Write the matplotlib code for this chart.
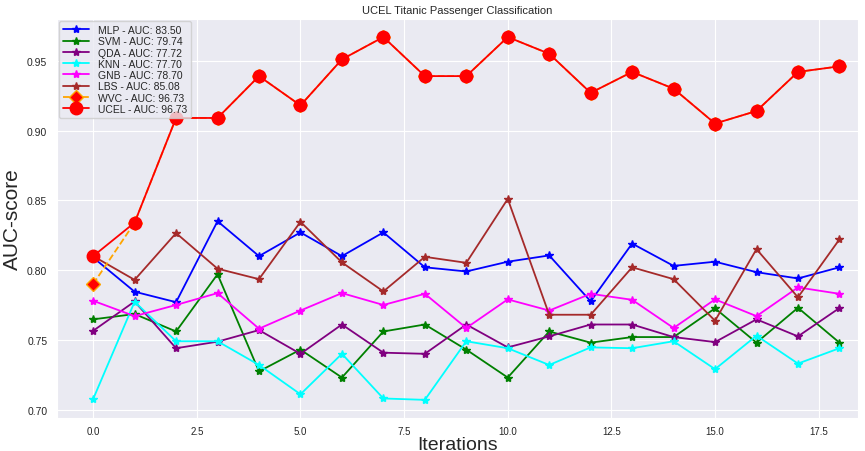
import numpy as np
import matplotlib
matplotlib.use("Agg")
import matplotlib.pyplot as plt
import seaborn as sns

sns.set_style("darkgrid")
plt.rcParams['font.family'] = ['Liberation Sans', 'DejaVu Sans']

# iterations
iters = list(range(19))

# AUC scores per classifier
mlp = [0.809, 0.7845, 0.777, 0.835, 0.810, 0.827, 0.810, 0.827, 0.802, 0.799,
       0.806, 0.8105, 0.7776, 0.819, 0.803, 0.806, 0.7985, 0.794, 0.802]
svm = [0.7647, 0.7685, 0.756, 0.797, 0.7274, 0.743, 0.723, 0.756, 0.761, 0.743,
       0.723, 0.756, 0.748, 0.752, 0.752, 0.7726, 0.748, 0.773, 0.748]
qda = [0.7565, 0.7775, 0.744, 0.7487, 0.757, 0.740, 0.761, 0.7408, 0.740, 0.761,
       0.7446, 0.7525, 0.761, 0.761, 0.752, 0.7484, 0.7647, 0.7525, 0.7728]
knn = [0.7076, 0.7773, 0.749, 0.749, 0.732, 0.711, 0.740, 0.708, 0.707, 0.749,
       0.744, 0.732, 0.7446, 0.744, 0.749, 0.729, 0.753, 0.733, 0.744]
gnb = [0.778, 0.767, 0.775, 0.7835, 0.758, 0.771, 0.7835, 0.775, 0.783, 0.7585,
       0.779, 0.771, 0.783, 0.7787, 0.7585, 0.779, 0.767, 0.7876, 0.783]
lbs = [0.810, 0.793, 0.8265, 0.801, 0.7935, 0.8346, 0.8055, 0.7847, 0.8095, 0.8052,
       0.851, 0.768, 0.768, 0.802, 0.7935, 0.7637, 0.815, 0.7805, 0.822]
ucel = [0.810, 0.834, 0.909, 0.909, 0.939, 0.918, 0.951, 0.967, 0.939, 0.939,
        0.967, 0.955, 0.927, 0.942, 0.930, 0.905, 0.914, 0.942, 0.946]
wvc = [0.790] + ucel[1:]

labels = ['MLP - AUC: 83.50', 'SVM - AUC: 79.74', 'QDA - AUC: 77.72',
          'KNN - AUC: 77.70', 'GNB - AUC: 78.70', 'LBS - AUC: 85.08',
          'WVC - AUC: 96.73', 'UCEL - AUC: 96.73']

fig, ax = plt.subplots(figsize=(8.65, 4.52), dpi=100)
fig.subplots_adjust(left=0.066, right=0.992, top=0.956, bottom=0.073)

star_series = [(mlp, 'blue'), (svm, 'green'), (qda, 'purple'),
               (knn, 'cyan'), (gnb, 'magenta'), (lbs, 'brown')]
for (vals, c), lab in zip(star_series, labels[:6]):
    ax.plot(iters, vals, color=c, marker='*', markersize=6, linewidth=1.3, label=lab)

ax.plot(iters, wvc, color='orange', linestyle='--', marker='D', markersize=7,
        markerfacecolor='red', linewidth=1.3, label=labels[6])
ax.plot(iters, ucel, color='red', marker='o', markersize=9, linewidth=1.3, label=labels[7])

ax.set_xlim(-0.87, 18.45)
ax.set_title('UCEL Titanic Passenger Classification', fontsize=8, pad=4)
ax.set_xlabel('Iterations', fontsize=14, labelpad=0)
ax.set_ylabel('AUC-score', fontsize=15)
ax.tick_params(axis='x', labelsize=7, pad=2)
ax.tick_params(axis='y', labelsize=7.5)
ax.legend(loc='upper left', fontsize=7.5, borderaxespad=0.2, labelspacing=0.12,
          handlelength=2.5)

plt.savefig('out.png', dpi=100)
